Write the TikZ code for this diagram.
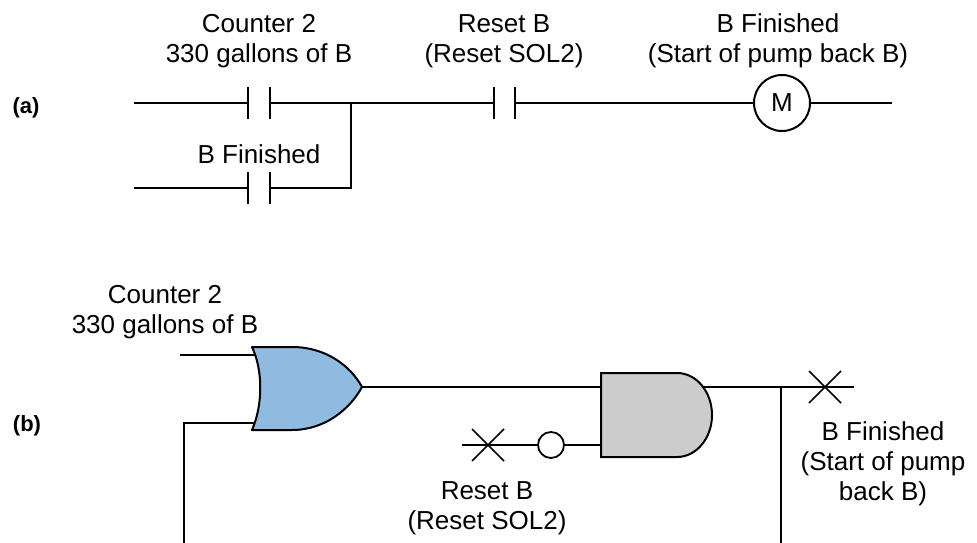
\documentclass[tikz,border=0pt]{standalone}
\usepackage{fontspec}
\setmainfont{Liberation Sans}
\definecolor{orfill}{RGB}{143,187,224}
\definecolor{andfill}{RGB}{204,204,204}
\begin{document}
\begin{tikzpicture}[x=1pt,y=-1pt,
  wire/.style={line width=2pt},
  lbl/.style={font=\fontsize{26}{30}\selectfont, align=center, inner sep=0pt, anchor=base},
  tag/.style={font=\fontsize{22}{25}\selectfont\bfseries, inner sep=0pt},
  contact/.style={minimum width=21pt, minimum height=31pt, inner sep=0pt, draw=none},
  coil/.style={circle, draw, line width=2pt, minimum size=56pt, inner sep=0pt, font=\fontsize{26}{30}\selectfont},
  cross/.style={line width=1.6pt},
  bubble/.style={circle, draw, line width=1.8pt, fill=white, minimum size=26pt, inner sep=0pt},
  orgate/.style={fill=orfill, draw, line width=2pt, line join=round},
  andgate/.style={fill=andfill, draw, line width=2pt}]
\useasboundingbox (0,0) rectangle (977,543);

% ---------- (a) ladder ----------
\node[tag] (taga) at (26,108) {(a)};
\coordinate (r1start) at (134,103);
\coordinate (r2start) at (134,188);
\coordinate (junc) at (351,103);
\coordinate (rungend) at (892,103);
\node[contact] (c1) at (259,103) {};
\node[contact] (c2) at (259,188) {};
\node[contact] (c3) at (504.5,103) {};
\node[coil] (m) at (782,103) {M};
\foreach \c in {c1,c2,c3}{
  \draw[wire] (\c.north west) -- (\c.south west);
  \draw[wire] (\c.north east) -- (\c.south east);
}
\draw[wire] (r1start) -- (c1.west);
\draw[wire] (r2start) -- (c2.west);
\draw[wire] (c1.east) -- (junc);
\draw[wire] (c2.east) -| (junc);
\draw[wire] (junc) -- (c3.west);
\draw[wire] (c3.east) -- (m.west);
\draw[wire] (m.east) -- (rungend);

\node[lbl] (l1) at (259,63) {Counter 2\\330 gallons of B};
\node[lbl] (l2) at (504,63) {Reset B\\(Reset SOL2)};
\node[lbl] (l3) at (778,63) {B Finished\\(Start of pump back B)};
\node[lbl] (l4) at (259,163) {B Finished};

% ---------- (b) logic ----------
\node[tag] (tagb) at (27,426) {(b)};
\coordinate (in1) at (180,355);
\coordinate (or1) at (262,355);
\coordinate (or2) at (262,423);
\coordinate (orout) at (362,387);
\coordinate (and1) at (601,387);
\coordinate (and2) at (601,445);
\coordinate (andout) at (700,387);
\coordinate (fbtop) at (781,387);
\coordinate (outend) at (854,387);
\coordinate (fbbot) at (781,543.6);
\coordinate (fbleft) at (184,543.6);
\coordinate (fbup) at (184,423);
\coordinate (rsstart) at (462,445);
\node[bubble] (bub) at (551,445) {};

\draw[wire] (in1) -- (or1);
\draw[wire] (fbtop) -- (fbbot) -- (fbleft) -- (fbup) -- (or2);
\draw[wire] (orout) -- (and1);
\draw[wire] (andout) -- (outend);
\draw[wire] (rsstart) -- (bub.west);
\draw[wire] (bub.east) -- (and2);

\draw[orgate] (252,347) -- (292,347)
  .. controls (325,347) and (350,365) .. (362,387)
  .. controls (350,409) and (325,430) .. (292,430)
  -- (252,430)
  .. controls (263,405) and (263,370) .. (252,347) -- cycle;
\draw[andgate] (601,373) -- (677,373)
  arc[start angle=-90, end angle=90, x radius=35, y radius=42]
  -- (601,457) -- cycle;

\draw[cross] (809,371) -- (841,403);
\draw[cross] (809,403) -- (841,371);
\draw[cross] (472,429) -- (504,461);
\draw[cross] (472,461) -- (504,429);

\node[lbl] (l5) at (165,333) {Counter 2\\330 gallons of B};
\node[lbl] (l6) at (883,500) {B Finished\\(Start of pump\\back B)};
\node[lbl] (l7) at (487,529) {Reset B\\(Reset SOL2)};
\end{tikzpicture}
\end{document}
